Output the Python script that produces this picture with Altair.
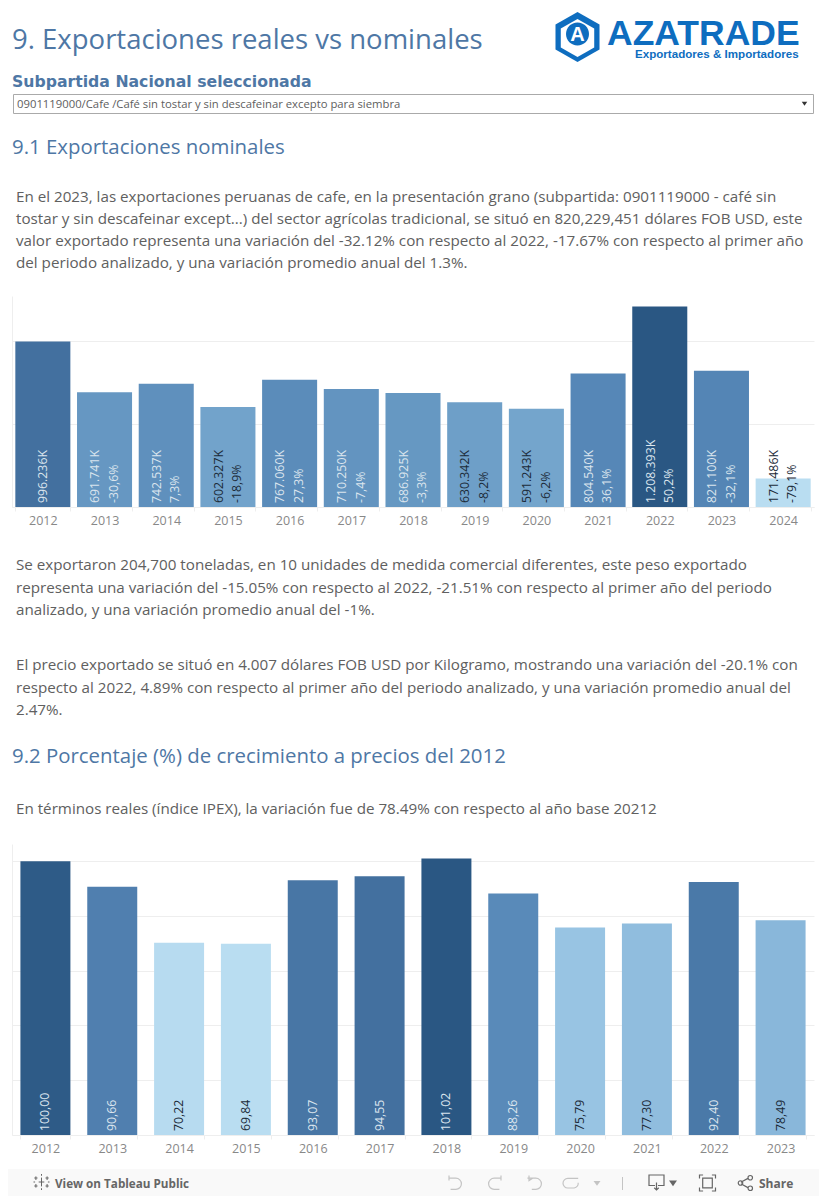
import altair as alt
import pandas as pd

FONT = "Open Sans"
BLUE = "#4e77a5"
GRAY = "#606060"
LOGO = "#0e6dbf"

title_main = "9. Exportaciones reales vs nominales"
title_select = "Subpartida Nacional seleccionada"
select_text = "0901119000/Cafe /Café sin tostar y sin descafeinar excepto para siembra"
title_91 = "9.1 Exportaciones nominales"
title_92 = "9.2 Porcentaje (%) de crecimiento a precios del 2012"
para_a = [
    "En el 2023, las exportaciones peruanas de cafe, en la presentación grano (subpartida: 0901119000 - café sin",
    "tostar y sin descafeinar except...) del sector agrícolas tradicional, se situó en 820,229,451 dólares FOB USD, este",
    "valor exportado representa una variación del -32.12% con respecto al 2022, -17.67% con respecto al primer año",
    "del periodo analizado, y una variación promedio anual del 1.3%.",
]
para_b = [
    "Se exportaron 204,700 toneladas, en 10 unidades de medida comercial diferentes, este peso exportado",
    "representa una variación del -15.05% con respecto al 2022, -21.51% con respecto al primer año del periodo",
    "analizado, y una variación promedio anual del -1%.",
]
para_c = [
    "El precio exportado se situó en 4.007 dólares FOB USD por Kilogramo, mostrando una variación del -20.1% con",
    "respecto al 2022, 4.89% con respecto al primer año del periodo analizado, y una variación promedio anual del",
    "2.47%.",
]
para_d = "En términos reales (índice IPEX), la variación fue de 78.49% con respecto al año base 20212"

years_1 = ["2012", "2013", "2014", "2015", "2016", "2017", "2018", "2019", "2020", "2021", "2022", "2023", "2024"]
values_1 = [996236, 691741, 742537, 602327, 767060, 710250, 686925, 630342, 591243, 804540, 1208393, 821100, 171486]
value_labels_1 = ["996.236K", "691.741K", "742.537K", "602.327K", "767.060K", "710.250K", "686.925K", "630.342K",
                  "591.243K", "804.540K", "1.208.393K", "821.100K", "171.486K"]
pct_labels_1 = ["", "-30,6%", "7,3%", "-18,9%", "27,3%", "-7,4%", "-3,3%", "-8,2%", "-6,2%", "36,1%", "50,2%", "-32,1%", "-79,1%"]
tones_1 = ["claro", "claro", "claro", "oscuro", "claro", "claro", "claro", "oscuro", "oscuro", "claro", "claro", "claro", "oscuro"]
color_domain_1 = [171486, 368500, 591243, 820000, 996236, 1208393]

years_2 = ["2012", "2013", "2014", "2015", "2016", "2017", "2018", "2019", "2020", "2021", "2022", "2023"]
values_2 = [100.00, 90.66, 70.22, 69.84, 93.07, 94.55, 101.02, 88.26, 75.79, 77.30, 92.40, 78.49]
value_labels_2 = ["100,00", "90,66", "70,22", "69,84", "93,07", "94,55", "101,02", "88,26", "75,79", "77,30", "92,40", "78,49"]
tones_2 = ["claro", "claro", "oscuro", "oscuro", "claro", "claro", "claro", "claro", "oscuro", "oscuro", "claro", "oscuro"]
color_domain_2 = [69.84, 75.79, 82.5, 89.3, 94.55, 101.02]

color_range = ["#b9ddf1", "#98c4e3", "#74a5cc", "#5485b5", "#43709f", "#2a5783"]
tone_names = ["claro", "oscuro"]
tone_colors = ["#dbe5ee", "#1c2b39"]

ONE = alt.Data(values=[{"a": 1}])
PANEL_W = 802
TOP_H = 288
MID_TOP = 527.5
FOOT_TOP = 1155
BODY = 15.2
SUB = 20.4


def origin(y0):
    return lambda x, y: (x - 12, y - y0)


def txt(org, s, x, y, size, color=GRAY, weight="normal", font=FONT, align="left"):
    px, py = org(x, y)
    return alt.Chart(ONE).mark_text(
        text=s, fontSize=size, color=color, fontWeight=weight, font=font,
        align=align, baseline="middle",
    ).encode(x=alt.value(px), y=alt.value(py))


def box(org, x1, y1, x2, y2, fill, stroke=None):
    a, b = org(x1, y1)
    c, d = org(x2, y2)
    kw = {"stroke": stroke, "strokeWidth": 1} if stroke else {}
    return alt.Chart(ONE).mark_rect(fill=fill, **kw).encode(
        x=alt.value(a), x2=alt.value(c), y=alt.value(b), y2=alt.value(d))


def icon(org, path, x, y, box_px, color, filled=False, sw=1.2):
    px, py = org(x, y)
    kw = dict(fill=color, stroke=color, strokeWidth=0.01, opacity=1) if filled else dict(
        fill="transparent", stroke=color, strokeWidth=sw, opacity=1)
    return alt.Chart(ONE).mark_point(shape=path, size=box_px ** 2, filled=filled, **kw).encode(
        x=alt.value(px), y=alt.value(py))


HEX = "M0,-1 L0.88,-0.5 L0.88,0.5 L0,1 L-0.88,0.5 L-0.88,-0.5 Z"
TRI = "M-1,-0.6 L1,-0.6 L0,0.8 Z"

o = origin(8)
top_layers = [
    alt.Chart(ONE).mark_rect(opacity=0).encode(x=alt.value(0), x2=alt.value(PANEL_W), y=alt.value(0), y2=alt.value(TOP_H)),
    txt(o, title_main, 12, 41, 27.5, BLUE),
    txt(o, title_select, 12, 82, 15.7, BLUE, "bold", "DejaVu Sans"),
    box(o, 13.5, 94.5, 813.5, 113.5, "white", "#aaaaaa"),
    txt(o, select_text, 17, 105, 11.3, GRAY),
    icon(o, TRI, 804.5, 103.5, 5.5, "#333333", True),
    txt(o, title_91, 12, 147.5, SUB, BLUE),
    icon(o, HEX, 577.5, 37, 50, LOGO, True),
    icon(o, HEX, 577.5, 38, 38, "white", True),
    icon(o, "M-1,0 A1,1 0 1 1 1,0 A1,1 0 1 1 -1,0 Z", 577.5, 34, 23, LOGO, True),
    txt(o, "A", 577.5, 35, 20, "white", "bold", "Liberation Sans", "center"),
    txt(o, "AZATRADE", 607, 33.5, 35.5, LOGO, "bold", "Liberation Sans"),
    txt(o, "Exportadores & Importadores", 635, 55, 11.6, LOGO, "bold", "Liberation Sans"),
]
for i, line in enumerate(para_a):
    top_layers.append(txt(o, line, 16, 196.5 + 22 * i, BODY, GRAY))
top = alt.layer(*top_layers).properties(width=PANEL_W, height=TOP_H)

AXIS_GRAY = "#eeeeee"


def bar_chart(df, h, vmax, ticks, color_domain, pad_in, pad_out, label_y):
    x = alt.X("anio:N", title=None, scale=alt.Scale(paddingInner=pad_in, paddingOuter=pad_out),
              axis=alt.Axis(labelAngle=0, labelColor="#888888", labelFontSize=12.5, labelFont=FONT,
                            labelPadding=3.5, tickBand="extent", tickSize=4, tickColor=AXIS_GRAY,
                            domainColor=AXIS_GRAY, grid=False))
    y = alt.Y("valor:Q", title=None, scale=alt.Scale(domain=[0, vmax], nice=False),
              axis=alt.Axis(values=ticks, labels=False, ticks=False, gridColor=AXIS_GRAY,
                            domainColor=AXIS_GRAY, grid=True))
    base = alt.Chart(df)
    bars = base.mark_bar().encode(
        x=x, y=y,
        color=alt.Color("valor:Q", legend=None,
                        scale=alt.Scale(domain=color_domain, range=color_range, type="linear")),
    )
    tone = alt.Color("tono:N", legend=None, scale=alt.Scale(domain=tone_names, range=tone_colors))

    def label(field, off, flt):
        return base.transform_filter(flt).mark_text(
            angle=270, align="left", baseline="middle", fontSize=12.3, font=FONT, xOffset=off,
        ).encode(x=alt.X("anio:N"), y=alt.value(label_y), text=field + ":N", color=tone)

    return bars, label


df1 = pd.DataFrame({"anio": years_1, "valor": values_1, "etiqueta": value_labels_1, "pct": pct_labels_1, "tono": tones_1})
df2 = pd.DataFrame({"anio": years_2, "valor": values_2, "etiqueta": value_labels_2, "tono": tones_2})

bars1, lab1 = bar_chart(df1, 211, 1271000, [0, 500000, 1000000], color_domain_1, 0.108, 0.054, 207)
chart1 = alt.layer(
    bars1,
    lab1("etiqueta", 0, "datum.pct == ''"),
    lab1("etiqueta", -9.2, "datum.pct != ''"),
    lab1("pct", 9.2, "datum.pct != ''"),
).resolve_scale(color="independent").properties(width=PANEL_W, height=211)

m = origin(MID_TOP)
mid_h = 844 - MID_TOP
mid_layers = [
    alt.Chart(ONE).mark_rect(opacity=0).encode(x=alt.value(0), x2=alt.value(PANEL_W), y=alt.value(0), y2=alt.value(mid_h)),
    txt(m, title_92, 12, 757.5, SUB, BLUE),
    txt(m, para_d, 16, 809.5, BODY, GRAY),
]
for i, line in enumerate(para_b):
    mid_layers.append(txt(m, line, 16, 565.5 + 22.5 * i, BODY, GRAY))
for i, line in enumerate(para_c):
    mid_layers.append(txt(m, line, 16, 665.5 + 22.5 * i, BODY, GRAY))
mid = alt.layer(*mid_layers).properties(width=PANEL_W, height=mid_h)

bars2, lab2 = bar_chart(df2, 291, 106.3, [0, 20, 40, 60, 80, 100], color_domain_2, 0.252, 0.126, 287)
chart2 = alt.layer(
    bars2,
    lab2("etiqueta", 0, "datum.anio != ''"),
).resolve_scale(color="independent").properties(width=PANEL_W, height=291)

f = origin(FOOT_TOP)
foot_h = 1196 - FOOT_TOP
UNDO = "M-0.75,-0.95 L-0.75,-0.3 M-0.75,-0.6 L0.1,-0.6 A0.7,0.7 0 0 1 0.1,0.8 L-0.55,0.8"
REDO = "M0.75,-0.95 L0.75,-0.3 M0.75,-0.6 L-0.1,-0.6 A0.7,0.7 0 0 0 -0.1,0.8 L0.55,0.8"
REV = "M-0.75,-0.95 L-0.75,-0.3 L-0.3,-0.6 L0.1,-0.6 A0.7,0.7 0 0 1 0.1,0.8 L-0.4,0.8 M-0.95,-0.6 L-0.3,-0.6"
REPLAY = "M0.9,-0.45 L-0.4,-0.45 A0.6,0.6 0 0 0 -0.4,0.75 L0.4,0.75 A0.6,0.6 0 0 0 0.9,0.1"
TAB = ("M0,-0.55 L0,0.55 M-0.35,0 L0.35,0 M-0.7,-0.7 L-0.7,-0.25 M-0.9,-0.5 L-0.5,-0.5 "
       "M0.7,-0.7 L0.7,-0.25 M0.9,-0.5 L0.5,-0.5 M-0.7,0.7 L-0.7,0.25 M-0.9,0.5 L-0.5,0.5 "
       "M0.7,0.7 L0.7,0.25 M0.9,0.5 L0.5,0.5 M0,-1 L0,-0.78 M0,1 L0,0.78 M-1,0 L-0.8,0 M1,0 L0.8,0")
DOWNLOAD = "M-0.2,0.4 L-1,0.4 L-1,-1 L1,-1 L1,0.4 L0.2,0.4 M0,0 L0,1 M-0.3,0.7 L0,1 L0.3,0.7"
FULL = ("M-1,-0.55 L-1,-1 L-0.55,-1 M0.55,-1 L1,-1 L1,-0.55 M1,0.55 L1,1 L0.55,1 M-0.55,1 L-1,1 L-1,0.55 "
        "M-0.6,-0.6 L0.6,-0.6 L0.6,0.6 L-0.6,0.6 Z")
SHARE = ("M-0.55,-0.1 L0.45,-0.65 M-0.55,0.1 L0.45,0.65 M-0.3,0 A0.3,0.3 0 1 1 -0.9,0 A0.3,0.3 0 1 1 -0.3,0 "
         "M1,-0.7 A0.3,0.3 0 1 1 0.4,-0.7 A0.3,0.3 0 1 1 1,-0.7 M1,0.7 A0.3,0.3 0 1 1 0.4,0.7 A0.3,0.3 0 1 1 1,0.7")
IC1 = "#c4c4c4"
IC2 = "#666666"
foot = alt.layer(
    box(f, 8, 1169, 819, 1196, "#f9f9f9"),
    icon(f, TAB, 41.5, 1182, 16, IC2, sw=1),
    txt(f, "View on Tableau Public", 55, 1183.5, 11.7, "#666666", "bold", "Open Sans"),
    icon(f, UNDO, 455, 1183, 16, IC1),
    icon(f, REDO, 495, 1183, 16, IC1),
    icon(f, REV, 535, 1183, 16, IC1),
    icon(f, REPLAY, 571, 1182, 16, IC1),
    icon(f, TRI, 597, 1183, 7, IC1, True),
    box(f, 622, 1177, 623, 1190, "#c4c4c4"),
    icon(f, DOWNLOAD, 656.5, 1182.5, 15, IC2),
    icon(f, TRI, 673, 1183, 8, IC2, True),
    icon(f, FULL, 707.5, 1183, 16, IC2),
    icon(f, SHARE, 745, 1183, 15, IC2),
    txt(f, "Share", 759, 1183.5, 12, "#666666", "bold", "Open Sans"),
).properties(width=PANEL_W, height=foot_h)

chart = alt.vconcat(top, chart1, mid, chart2, foot, spacing=0).properties(
    padding=0, background="white"
).configure_view(stroke=None).configure_concat(spacing=0)

chart.save("out.html", embed_options={"renderer": "svg", "actions": False})
